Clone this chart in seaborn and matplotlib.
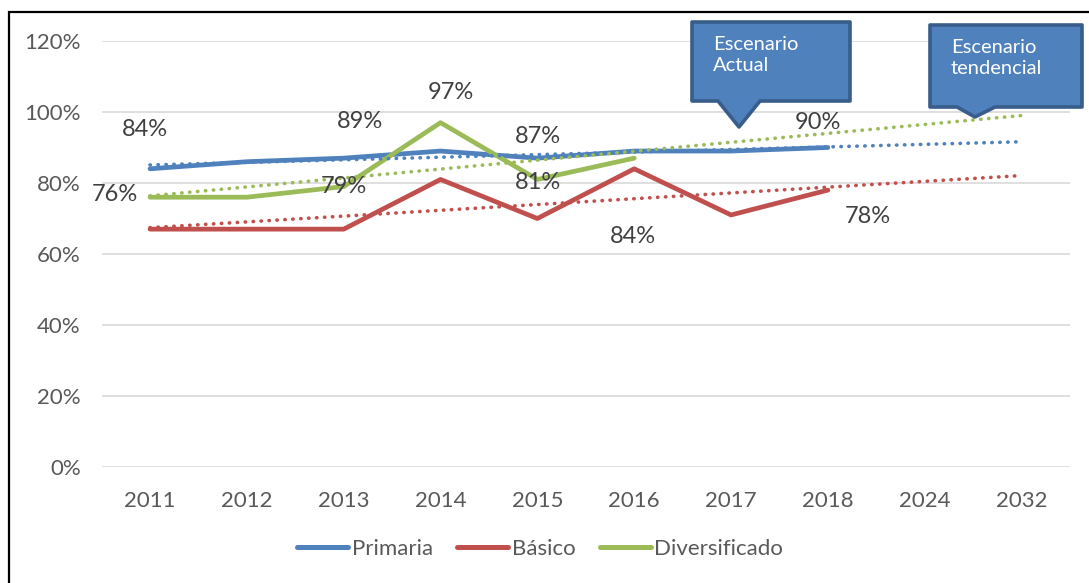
import numpy as np
import pandas as pd
import matplotlib.pyplot as plt
import seaborn as sns
from matplotlib.patches import Polygon, Rectangle
from matplotlib.lines import Line2D

sns.set_style("white")
plt.rcParams['font.family'] = ['Lato', 'DejaVu Sans']

# Data (percent)
years = ['2011', '2012', '2013', '2014', '2015', '2016', '2017', '2018', '2024', '2032']
primaria = [84, 86, 87, 89, 87, 89, 89, 90]
basico = [67, 67, 67, 81, 70, 84, 71, 78]
diversificado = [76, 76, 79, 97, 81, 87]

series = {'Primaria': primaria, 'Básico': basico, 'Diversificado': diversificado}
colors = {'Primaria': '#4F81BD', 'Básico': '#C0504D', 'Diversificado': '#9BBB59'}

# labels shown on the chart: (series, year, offset in pixels)
labels = [
    ('Primaria', '2011', (-5, 39)),
    ('Diversificado', '2011', (-35, 3)),
    ('Primaria', '2014', (-81, 30)),
    ('Diversificado', '2013', (0, 0)),
    ('Diversificado', '2014', (10, 30)),
    ('Primaria', '2015', (1, 22)),
    ('Diversificado', '2015', (1, -3)),
    ('Básico', '2016', (-1, -68)),
    ('Primaria', '2018', (-10, 25)),
    ('Básico', '2018', (40, -26)),
]

rows = []
for name, vals in series.items():
    for i, v in enumerate(vals):
        rows.append({'serie': name, 'pos': i, 'year': years[i], 'value': v})
df = pd.DataFrame(rows)

W, H = 1089, 583
fig = plt.figure(figsize=(W / 100, H / 100), dpi=100)


def fx(px):
    return px / W


def fy(py):
    return (H - py) / H


ax = fig.add_axes([fx(101.6), fy(467), fx(1070) - fx(101.6), fy(41) - fy(467)])

# trend lines (linear fit extended to the last category)
ax.set_xlim(0, len(years) - 1)
for name in series:
    sub = df[df['serie'] == name]
    sns.regplot(data=sub, x='pos', y='value', ax=ax, scatter=False, ci=None,
                truncate=False, color=colors[name],
                line_kws=dict(lw=2.6, linestyle=(0, (0.1, 2.1)),
                              dash_capstyle='round', zorder=4))

sns.lineplot(data=df, x='pos', y='value', hue='serie', palette=colors, ax=ax,
             lw=3.4, legend=False, zorder=3, solid_capstyle='round',
             estimator=None, sort=False)

ax.set_xlim(-0.5, len(years) - 0.5)
ax.set_ylim(0, 120)
ax.set_yticks(np.arange(0, 121, 20))
ax.set_yticklabels([f'{v}%' for v in range(0, 121, 20)])
ax.set_xticks(range(len(years)))
ax.set_xticklabels(years)
ax.set_xlabel('')
ax.set_ylabel('')
ax.grid(axis='y', color='#D9D9D9', lw=1.2)
ax.set_axisbelow(True)
for s in ax.spines.values():
    s.set_visible(False)
ax.tick_params(axis='both', length=0, labelsize=16, labelcolor='#595959')
ax.tick_params(axis='x', pad=17)
ax.tick_params(axis='y', pad=15)

for name, yr, (dx, dy) in labels:
    i = years.index(yr)
    v = series[name][i]
    ax.annotate(f'{v}%', xy=(i, v), xytext=(dx, dy), textcoords='offset pixels',
                ha='center', va='center', fontsize=17, color='#404040', zorder=6)

# legend
handles = [Line2D([], [], color=colors[n], lw=3.6, solid_capstyle='round') for n in series]
fig.legend(handles, list(series.keys()), loc='center', bbox_to_anchor=(fx(540), fy(549)),
           ncol=3, frameon=False, fontsize=16, labelcolor='#595959',
           handlelength=2.3, handletextpad=0.15, columnspacing=1.1)

# callouts
callouts = [
    ('Escenario\nActual', [(692, 22), (850, 22), (850, 101), (760, 101), (739, 127), (718, 101), (692, 101)], (713, 36)),
    ('Escenario\ntendencial', [(930, 25), (1082, 25), (1082, 107), (995, 107), (975, 117), (957, 107), (930, 107)], (951, 39)),
]
for text, pts, (tx, ty) in callouts:
    poly = Polygon([(fx(a), fy(b)) for a, b in pts], closed=True, transform=fig.transFigure,
                   facecolor='#4F81BD', edgecolor='#385D8A', lw=2.6, joinstyle='round', zorder=10)
    fig.patches.append(poly)
    fig.text(fx(tx), fy(ty), text, ha='left', va='top', fontsize=14.5, color='white',
             linespacing=1.3, zorder=11)

# outer frame
fig.patches.append(Rectangle((fx(9), -0.1), 1.2, fy(12) + 0.1, transform=fig.transFigure,
                             fill=False, edgecolor='black', lw=1.6, zorder=12))

fig.savefig('out.png', dpi=100)
